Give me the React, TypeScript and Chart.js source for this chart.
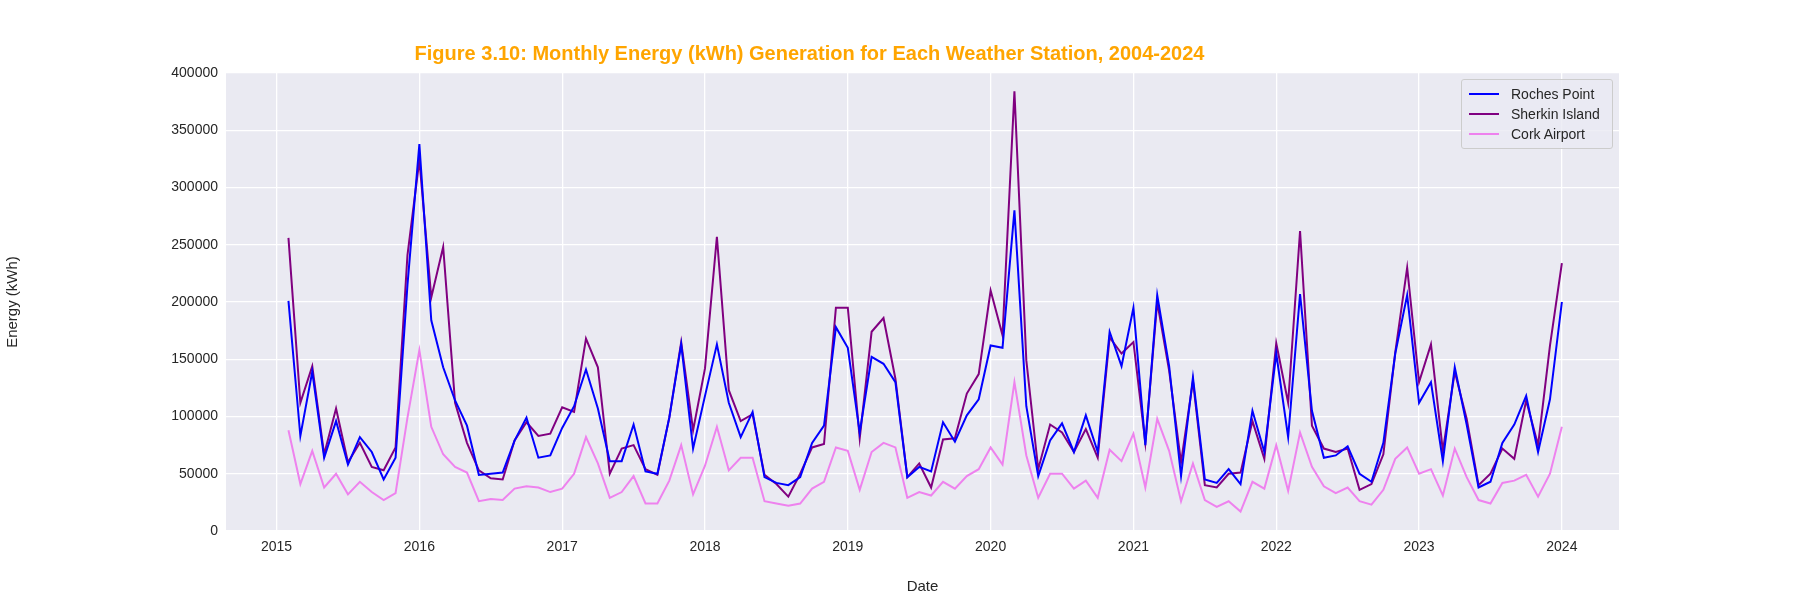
import { useEffect, useRef } from 'react'
import { Chart, registerables } from 'chart.js'

Chart.register(...registerables)

// month-end dates, Jan 2015 .. Dec 2023
const years = [2015, 2016, 2017, 2018, 2019, 2020, 2021, 2022, 2023]
const months = [1, 2, 3, 4, 5, 6, 7, 8, 9, 10, 11, 12]

// values in thousands of kWh
const rochesPoint = [
  201, 83, 139, 64, 96, 58, 82, 69, 45, 64, 215, 338,
  184, 143, 114, 92, 49, 50, 51, 79, 99, 64, 66, 90,
  109, 141, 107, 61, 61, 93, 52, 50, 99, 163, 72, 118,
  163, 112, 82, 104, 47, 42, 40, 47, 77, 92, 178, 160,
  86, 152, 146, 130, 47, 56, 52, 95, 78, 101, 115, 162,
  160, 280, 109, 48, 79, 94, 69, 101, 69, 174, 144, 195,
  75, 206, 144, 48, 134, 45, 42, 54, 41, 105, 69, 155,
  82, 207, 105, 64, 66, 74, 50, 43, 77, 155, 206, 112,
  130, 61, 143, 93, 38, 43, 77, 93, 118, 69, 115, 200,
]
const sherkinIsland = [
  256, 112, 144, 67, 107, 60, 77, 56, 53, 73, 241, 324,
  204, 248, 112, 77, 53, 46, 45, 79, 95, 83, 85, 108,
  104, 168, 143, 50, 72, 75, 54, 49, 99, 165, 88, 142,
  257, 123, 96, 102, 49, 41, 30, 50, 73, 76, 195, 195,
  81, 174, 186, 133, 47, 59, 38, 80, 81, 120, 137, 210,
  171, 384, 149, 54, 93, 86, 69, 89, 64, 169, 155, 165,
  77, 200, 140, 60, 131, 40, 38, 50, 51, 96, 63, 164,
  112, 262, 92, 72, 69, 72, 36, 41, 67, 156, 230, 130,
  163, 70, 139, 98, 40, 50, 72, 63, 114, 75, 162, 234,
]
const corkAirport = [
  88, 41, 70, 38, 50, 32, 43, 34, 27, 33, 99, 158,
  91, 67, 56, 51, 26, 28, 27, 37, 39, 38, 34, 37,
  50, 82, 59, 29, 34, 48, 24, 24, 44, 75, 32, 57,
  91, 53, 64, 64, 26, 24, 22, 24, 37, 43, 73, 70,
  36, 69, 77, 73, 29, 34, 31, 43, 37, 48, 54, 73,
  58, 130, 66, 29, 50, 50, 37, 44, 29, 71, 61, 85,
  38, 98, 70, 26, 59, 27, 21, 26, 17, 43, 37, 75,
  35, 86, 56, 39, 33, 38, 26, 23, 36, 63, 73, 50,
  54, 31, 72, 47, 27, 24, 42, 44, 49, 30, 50, 91,
]
const yTicks = [0, 50000, 100000, 150000, 200000, 250000, 300000, 350000, 400000]

const series = [
  { label: 'Roches Point', values: rochesPoint, color: '#0000ff' },
  { label: 'Sherkin Island', values: sherkinIsland, color: '#800080' },
  { label: 'Cork Airport', values: corkAirport, color: '#ee82ee' },
]

// decimal-year positions of each month end
const dates = years.flatMap(y => months.map(m => y + m / 12))

const font = '"Liberation Sans", Arial, sans-serif'
const tickColor = '#262626'

const plotBackground = {
  id: 'plotBackground',
  beforeDraw(chart: Chart) {
    const { ctx, chartArea } = chart
    ctx.save()
    ctx.fillStyle = '#eaeaf2'
    ctx.fillRect(chartArea.left, chartArea.top, chartArea.right - chartArea.left, chartArea.bottom - chartArea.top)
    ctx.restore()
  },
}

export default function App() {
  const canvasRef = useRef<HTMLCanvasElement>(null)

  useEffect(() => {
    if (!canvasRef.current) return
    const chart = new Chart(canvasRef.current, {
      type: 'line',
      data: {
        datasets: series.map(s => ({
          label: s.label,
          data: s.values.map((v, i) => ({ x: dates[i], y: v * 1000 })),
          borderColor: s.color,
          backgroundColor: s.color,
          borderWidth: 2,
          pointRadius: 0,
          tension: 0,
        })),
      },
      plugins: [plotBackground],
      options: {
        animation: false,
        responsive: false,
        layout: { padding: { right: 181 } },
        plugins: {
          legend: { display: false },
          tooltip: { enabled: false },
          title: {
            display: true,
            text: 'Figure 3.10: Monthly Energy (kWh) Generation for Each Weather Station, 2004-2024',
            color: '#ffa500',
            font: { family: font, size: 20, weight: 'bold' },
            padding: { top: 42, bottom: 7 },
          },
        },
        scales: {
          x: {
            type: 'linear',
            min: 2014.646,
            max: 2024.4,
            afterBuildTicks: scale => {
              scale.ticks = years.concat([2024]).map(v => ({ value: v }))
            },
            afterFit: scale => { scale.height = 69 },
            ticks: { color: tickColor, font: { family: font, size: 14 }, padding: 8, callback: v => String(v) },
            grid: { color: '#ffffff', lineWidth: 1.3, drawTicks: false },
            border: { display: false },
            title: { display: true, text: 'Date', color: tickColor, font: { family: font, size: 15 }, padding: { top: 4 } },
          },
          y: {
            min: 0,
            max: 400000,
            afterBuildTicks: scale => {
              scale.ticks = yTicks.map(v => ({ value: v }))
            },
            afterFit: scale => { scale.width = 226 },
            ticks: { color: tickColor, font: { family: font, size: 14 }, padding: 8, callback: v => String(v) },
            grid: { color: '#ffffff', lineWidth: 1.3, drawTicks: false },
            border: { display: false },
            title: { display: true, text: 'Energy (kWh)', color: tickColor, font: { family: font, size: 15 }, padding: { bottom: 6 } },
          },
        },
      },
    })
    return () => { chart.destroy() }
  }, [])

  return (
    <div style={{ position: 'fixed', left: 0, top: 0, width: 1800, height: 600, background: '#fff' }}>
      <canvas ref={canvasRef} width={1800} height={600} />
      <div
        style={{
          position: 'absolute', left: 1461, top: 79, width: 150, padding: '4px 0',
          background: 'rgba(234,234,242,0.8)', border: '1px solid #cccccc', borderRadius: 3,
          fontFamily: font, fontSize: 14, color: '#262626',
        }}
      >
        {series.map(s => (
          <div key={s.label} style={{ display: 'flex', alignItems: 'center', height: 20, paddingLeft: 7 }}>
            <span style={{ display: 'inline-block', width: 30, height: 2, background: s.color, marginRight: 12 }} />
            {s.label}
          </div>
        ))}
      </div>
    </div>
  )
}
